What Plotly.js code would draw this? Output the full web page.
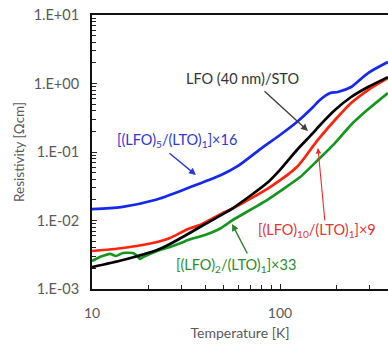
<!DOCTYPE html>
<html>
<head>
<meta charset="utf-8">
<script src="https://cdn.plot.ly/plotly-3.0.1.min.js"></script>
<style>
html,body{margin:0;padding:0;background:#fff;}
#chart{width:388px;height:345px;}
</style>
</head>
<body>
<div id="chart"></div>
<script>
// Temperature [K] and resistivity [Ohm cm]
const tempBlack = [10, 14.6, 22.2, 26.0, 32.4, 37.5, 48.6, 56.2, 85.3, 100, 123, 150, 159, 196, 239, 294, 375];
const rhoBlack  = [0.00209, 0.00265, 0.00371, 0.00454, 0.00635, 0.00803, 0.0120, 0.0152, 0.0352, 0.055, 0.107, 0.190, 0.228, 0.410, 0.635, 0.889, 1.24];

const tempRed = [10, 14.6, 22.2, 26.0, 32.4, 37.5, 48.6, 56.2, 88.5, 123, 150, 159, 196, 239, 294, 375];
const rhoRed  = [0.00359, 0.00397, 0.00485, 0.00555, 0.00752, 0.00859, 0.0125, 0.0150, 0.0308, 0.0604, 0.122, 0.150, 0.293, 0.519, 0.803, 1.20];

const tempBlue = [10, 14.3, 21.6, 32.4, 48.6, 59.8, 81.2, 100, 123, 150, 163, 185, 203, 239, 294, 375];
const rhoBlue  = [0.0147, 0.0157, 0.0199, 0.0298, 0.0461, 0.0625, 0.118, 0.177, 0.274, 0.454, 0.574, 0.726, 0.752, 0.889, 1.42, 2.06];

const tempGreen = [10, 11.0, 12.5, 13.4, 14.6, 16.5, 17.4, 18.0, 18.7, 20.3, 22.2, 26.0, 29.7, 32.4, 39.9, 48.6, 56.2, 85.3, 128, 159, 196, 239, 294, 375];
const rhoGreen  = [0.00256, 0.00293, 0.00325, 0.00303, 0.00336, 0.00336, 0.00303, 0.00274, 0.00293, 0.00325, 0.00359, 0.00410, 0.00469, 0.00519, 0.00614, 0.00777, 0.0102, 0.0199, 0.0431, 0.0763, 0.135, 0.250, 0.420, 0.726];

const xMajorVals = [10, 100];
const xMajorText = ['10', '100'];
const xMinorVals = [20, 30, 40, 50, 60, 70, 80, 90, 200, 300];

const yMajorVals = [10, 1, 0.1, 0.01, 0.001];
const yMajorText = ['1.E+01', '1.E+00', '1.E-01', '1.E-02', '1.E-03'];
const yMinorVals = [];
[0.001, 0.01, 0.1, 1].forEach(d => { for (let k = 2; k <= 9; k++) yMinorVals.push(+(d * k).toPrecision(3)); });

const FONT = 'Lato, "Open Sans", sans-serif';
const LABEL_SIZE = 14.5;

function trace(x, y, color, smoothing) {
  return {x: x, y: y, type: 'scatter', mode: 'lines',
          line: {color: color, width: 2.7, shape: 'spline', smoothing: smoothing},
          hoverinfo: 'skip', showlegend: false};
}

const data = [
  trace(tempGreen, rhoGreen, 'rgb(20,150,30)', 0.4),
  trace(tempRed, rhoRed, 'rgb(255,35,10)', 0.7),
  trace(tempBlack, rhoBlack, 'rgb(0,0,0)', 0.7),
  trace(tempBlue, rhoBlue, 'rgb(20,40,240)', 0.7)
];

function label(text, x, y, color) {
  return {text: text, x: x, y: y, xref: 'x', yref: 'y', showarrow: false,
          font: {family: FONT, size: LABEL_SIZE, color: color}, xanchor: 'center', yanchor: 'middle'};
}
function arrow(x, y, ax, ay, color, w) {
  return {text: '', x: x, y: y, xref: 'x', yref: 'y', ax: ax, ay: ay, showarrow: true,
          arrowhead: 2, arrowsize: 1, arrowwidth: w || 1.4, arrowcolor: color, standoff: 0};
}

const layout = {
  width: 388, height: 345,
  margin: {l: 92, r: 0, t: 15, b: 56, pad: 0},
  paper_bgcolor: '#fff', plot_bgcolor: '#fff',
  font: {family: FONT, size: 12, color: '#595959'},
  xaxis: {
    type: 'log', range: [1, 2.5745],
    tickmode: 'array', tickvals: xMajorVals, ticktext: xMajorText,
    ticks: 'inside', ticklen: 5, tickwidth: 1, tickcolor: '#222',
    ticklabelstandoff: 10,
    minor: {tickmode: 'array', tickvals: xMinorVals, ticks: 'inside', ticklen: 4, tickwidth: 1, tickcolor: '#222'},
    showline: true, linecolor: '#111', linewidth: 2, mirror: true,
    showgrid: false, zeroline: false,
    tickfont: {family: FONT, size: 14, color: '#595959'},
    title: {text: 'Temperature [K]', font: {family: FONT, size: 14, color: '#595959'}, standoff: 8}
  },
  yaxis: {
    type: 'log', range: [-3, 1],
    tickmode: 'array', tickvals: yMajorVals, ticktext: yMajorText,
    ticks: 'inside', ticklen: 5, tickwidth: 1, tickcolor: '#222',
    ticklabelstandoff: 8,
    minor: {tickmode: 'array', tickvals: yMinorVals, ticks: 'inside', ticklen: 4, tickwidth: 1, tickcolor: '#222'},
    showline: true, linecolor: '#111', linewidth: 2, mirror: false,
    showgrid: false, zeroline: false,
    tickfont: {family: FONT, size: 14.5, color: '#595959'},
    title: {text: 'Resistivity [Ωcm]', font: {family: FONT, size: 13.5, color: '#595959'}, standoff: 6}
  },
  annotations: [
    label('LFO (40 nm)/STO', 1.798, 0.080, '#333333'),
    arrow(2.149, -0.693, -45, -41, '#404040'),
    label('[(LFO)<sub>5</sub>/(LTO)<sub>1</sub>]×16', 1.452, -0.825, 'rgb(45,55,210)'),
    arrow(1.553, -1.336, -28, -23, 'rgb(40,60,220)'),
    label('[(LFO)<sub>10</sub>/(LTO)<sub>1</sub>]×9', 2.197, -2.153, 'rgb(230,50,50)'),
    arrow(2.202, -0.942, 7, 74, 'rgb(240,40,40)', 1.1),
    label('[(LFO)<sub>2</sub>/(LTO)<sub>1</sub>]×33', 1.766, -2.650, 'rgb(45,140,45)'),
    arrow(1.745, -2.051, 16, 31, 'rgb(40,130,40)')
  ]
};

Plotly.newPlot('chart', data, layout, {staticPlot: true, displayModeBar: false});
</script>
</body>
</html>
